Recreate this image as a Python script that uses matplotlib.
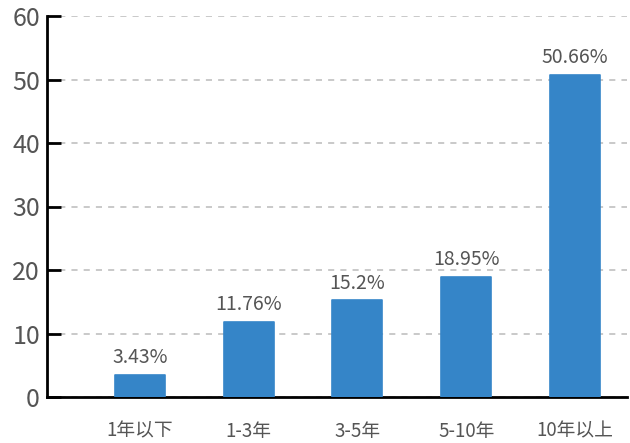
import matplotlib
matplotlib.use("Agg")
import matplotlib.pyplot as plt

plt.rcParams["font.family"] = ["Noto Sans CJK SC", "DejaVu Sans"]
plt.rcParams["font.weight"] = 500

categories = ["1年以下", "1-3年", "3-5年", "5-10年", "10年以上"]
values = [3.43, 11.76, 15.2, 18.95, 50.66]
labels = ["3.43%", "11.76%", "15.2%", "18.95%", "50.66%"]
yticks = [0, 10, 20, 30, 40, 50, 60]

BAR = "#3585c8"
TXT = "#555555"

fig = plt.figure(figsize=(6.3, 4.43), dpi=100)
ax = fig.add_axes([47 / 630, 46 / 443, 580 / 630, 381 / 443])

x = list(range(len(categories)))
ax.bar(x, values, width=0.46, color=BAR, edgecolor=BAR, linewidth=1.2,
       joinstyle="round", zorder=3)

for xi, v, lbl in zip(x, values, labels):
    ax.annotate(lbl, (xi, v), xytext=(0, 5), textcoords="offset points",
                ha="center", va="bottom", fontsize=14, color=TXT)

ax.set_xlim(-0.857, 4.48)
ax.set_ylim(0, 60)
ax.set_yticks(yticks)
ax.set_xticks(x)
ax.set_xticklabels(categories)

ax.yaxis.grid(True, ls=(0, (4, 4)), color="#bbbbbb", lw=1.1, zorder=0)
ax.set_axisbelow(True)

for s in ("top", "right"):
    ax.spines[s].set_visible(False)
ax.spines["left"].set_linewidth(2)
ax.spines["bottom"].set_linewidth(2)

ax.tick_params(axis="y", direction="in", length=10, width=2,
               labelsize=18, labelcolor=TXT, pad=5)
ax.tick_params(axis="x", length=0, labelsize=13.5, labelcolor=TXT, pad=17)

fig.savefig("out.png", dpi=100)
